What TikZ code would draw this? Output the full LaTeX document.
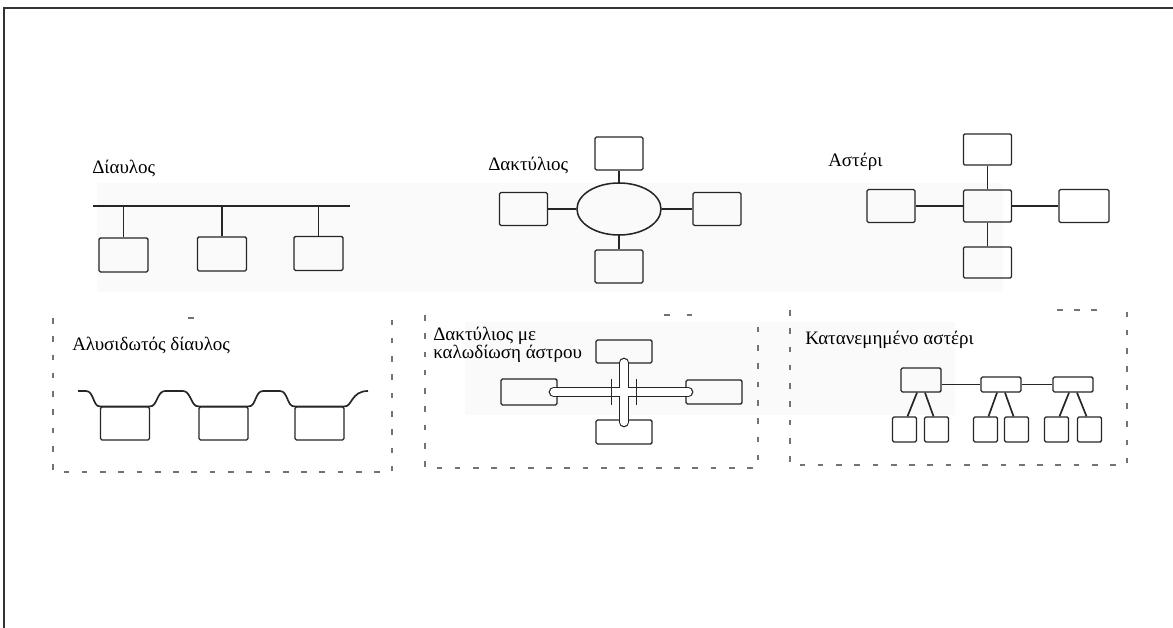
\documentclass[tikz,border=0pt]{standalone}
\usepackage{fontspec}
\setmainfont{Liberation Serif}
\usetikzlibrary{shapes.geometric,calc}

\tikzset{
  station/.style={draw=black!85, line width=0.9pt, rounded corners=1pt, inner sep=0pt, minimum width=1.2cm, minimum height=0.82cm},
  cable/.style={draw=black!85, line width=1.2pt},
  caption/.style={anchor=west, inner sep=0pt, font=\fontsize{13.5}{13}\selectfont},
  panelframe/.style={draw=black!55, line width=0.8pt, dash pattern=on 4pt off 9pt},
}

\begin{document}
\begin{tikzpicture}[x=0.025cm, y=-0.025cm]
\useasboundingbox (0,0) rectangle (1173,628);
% faint scan shading
\fill[black!2] (97,183) rectangle (1003,292);
\fill[black!2] (465,322) rectangle (955,415);
% outer frame
\draw[line width=1.2pt, black!80] (4,628) -- (4,8) -- (1173,8);

% bus
\node[caption] (buslabel) at (92,168) {Δίαυλος};
\coordinate (busL) at (93,206);
\coordinate (busR) at (350,206);
\node[station, minimum width=1.225cm, minimum height=0.85cm] (bus1) at (123.5,255) {};
\node[station, minimum width=1.225cm, minimum height=0.85cm] (bus2) at (222,254) {};
\node[station, minimum width=1.225cm, minimum height=0.85cm] (bus3) at (318.5,253.5) {};
\draw[cable] (busL) -- (busR);
\draw[cable] (bus1.north |- busL) -- (bus1.north);
\draw[cable] (bus2.north |- busL) -- (bus2.north);
\draw[cable] (bus3.north |- busL) -- (bus3.north);

% ring
\node[caption] (ringlabel) at (488,165) {Δακτύλιος};
\node[draw=black!85, line width=1.1pt, ellipse, inner sep=0pt, minimum width=2.1cm, minimum height=1.3cm] (ring) at (619,209) {};
\node[station] (ringN) at (619,153.5) {};
\node[station] (ringW) at (523.5,209) {};
\node[station] (ringE) at (717,209) {};
\node[station] (ringS) at (619,266.5) {};
\draw[cable] (ring) -- (ringN);
\draw[cable] (ring) -- (ringW);
\draw[cable] (ring) -- (ringE);
\draw[cable] (ring) -- (ringS);

% star
\node[caption] (starlabel) at (828,162) {Αστέρι};
\node[station, minimum height=0.8cm] (hubC) at (987.5,206) {};
\node[station, minimum height=0.78cm] (starN) at (987.5,149.5) {};
\node[station] (starW) at (891,206) {};
\node[station, minimum width=1.25cm] (starE) at (1084,206) {};
\node[station, minimum height=0.78cm] (starS) at (987.5,262.5) {};
\draw[cable] (hubC) -- (starN);
\draw[cable] (hubC) -- (starW);
\draw[cable] (hubC) -- (starE);
\draw[cable] (hubC) -- (starS);

% dashed panels of the lower row
\draw[panelframe] (53,318) -- (53,472) -- (392,472) -- (392,318);
\draw[panelframe, dash pattern=on 0pt off 96pt on 4pt off 200pt] (53,318) -- (392,318);
\draw[panelframe] (425,315) -- (425,468) -- (758,468) -- (758,315);
\draw[panelframe, dash pattern=on 0pt off 170pt on 4pt off 12pt on 4pt off 200pt] (425,315) -- (758,315);
\draw[panelframe] (790,310) -- (790,465) -- (1127,465) -- (1127,310);
\draw[panelframe, dash pattern=on 0pt off 190pt on 4pt off 8pt on 4pt off 8pt on 4pt off 200pt] (790,310) -- (1127,310);

% daisy chain bus
\node[caption] (chainlabel) at (72,345) {Αλυσιδωτός δίαυλος};
\node[station, minimum width=1.225cm, minimum height=0.825cm] (chain1) at (125,423.5) {};
\node[station, minimum width=1.225cm, minimum height=0.825cm] (chain2) at (223.5,423.5) {};
\node[station, minimum width=1.225cm, minimum height=0.825cm] (chain3) at (319.5,423.5) {};
\coordinate (chainL) at (78,391);
\coordinate (chainR) at (368,391);
\draw[cable] (chainL) -- (86,391) .. controls (94,391) and (93,407) .. (chain1.north west)
  -- (chain1.north east) .. controls (157,407) and (157,391) .. (165,391) -- (183,391)
  .. controls (191,391) and (191,407) .. (chain2.north west)
  -- (chain2.north east) .. controls (256,407) and (255,391) .. (263,391) -- (280,391)
  .. controls (288,391) and (287,407) .. (chain3.north west)
  -- (chain3.north east) .. controls (352,407) and (351,391) .. (chainR);

% ring with star wiring
\node[caption, anchor=north west, align=left] (wiredlabel) at (433,327) {Δακτύλιος με\\καλωδίωση άστρου};
\node[station, minimum width=1.4cm, minimum height=0.575cm] (wiredN) at (624,351.5) {};
\node[station, minimum width=1.4cm, minimum height=0.65cm] (wiredW) at (529,392) {};
\node[station, minimum width=1.4cm, minimum height=0.6cm] (wiredE) at (714,392) {};
\node[station, minimum width=1.4cm, minimum height=0.6cm] (wiredS) at (624,432) {};
\node[inner sep=0pt, minimum width=0.6cm, minimum height=0.625cm] (hub) at (624,392) {};
\coordinate (pipeW) at ($(wiredW.east)+(-4,0)$);
\coordinate (pipeE) at ($(wiredE.west)+(3,0)$);
\coordinate (pipeN) at ($(wiredN.south)+(0,-1)$);
\coordinate (pipeS) at ($(wiredS.north)+(0,3)$);
\foreach \w/\c in {0.25cm/black!85, 0.18cm/white}
  \draw[line width=\w, \c, line cap=round] (pipeW) -- (pipeE) (pipeN) -- (pipeS);
\draw[cable, line width=0.9pt] (hub.north west) -- (hub.south west) (hub.north east) -- (hub.south east);

% distributed star
\node[caption] (distlabel) at (805,340) {Κατανεμημένο αστέρι};
\node[station, minimum width=1cm, minimum height=0.6cm] (dist1) at (921,380) {};
\node[station, minimum width=1cm, minimum height=0.375cm] (dist2) at (1001,384.5) {};
\node[station, minimum width=1cm, minimum height=0.375cm] (dist3) at (1073,384.5) {};
\node[station, minimum width=0.6cm, minimum height=0.625cm] (leaf1) at (904.5,429.5) {};
\node[station, minimum width=0.6cm, minimum height=0.625cm] (leaf2) at (936.5,429.5) {};
\node[station, minimum width=0.6cm, minimum height=0.625cm] (leaf3) at (985.5,429.5) {};
\node[station, minimum width=0.6cm, minimum height=0.625cm] (leaf4) at (1016.5,429.5) {};
\node[station, minimum width=0.6cm, minimum height=0.625cm] (leaf5) at (1056.5,429.5) {};
\node[station, minimum width=0.6cm, minimum height=0.625cm] (leaf6) at (1089.5,429.5) {};
\draw[cable] (dist1.east |- dist2) -- (dist2);
\draw[cable] (dist2) -- (dist3);
\draw[cable] ($(dist1.south)+(-4,0)$) -- ($(leaf1.north)+(3,0)$);
\draw[cable] ($(dist1.south)+(4,0)$) -- ($(leaf2.north)+(-3,0)$);
\draw[cable] ($(dist2.south)+(-4,0)$) -- ($(leaf3.north)+(3,0)$);
\draw[cable] ($(dist2.south)+(4,0)$) -- ($(leaf4.north)+(-3,0)$);
\draw[cable] ($(dist3.south)+(-4,0)$) -- ($(leaf5.north)+(3,0)$);
\draw[cable] ($(dist3.south)+(4,0)$) -- ($(leaf6.north)+(-3,0)$);
\end{tikzpicture}
\end{document}
